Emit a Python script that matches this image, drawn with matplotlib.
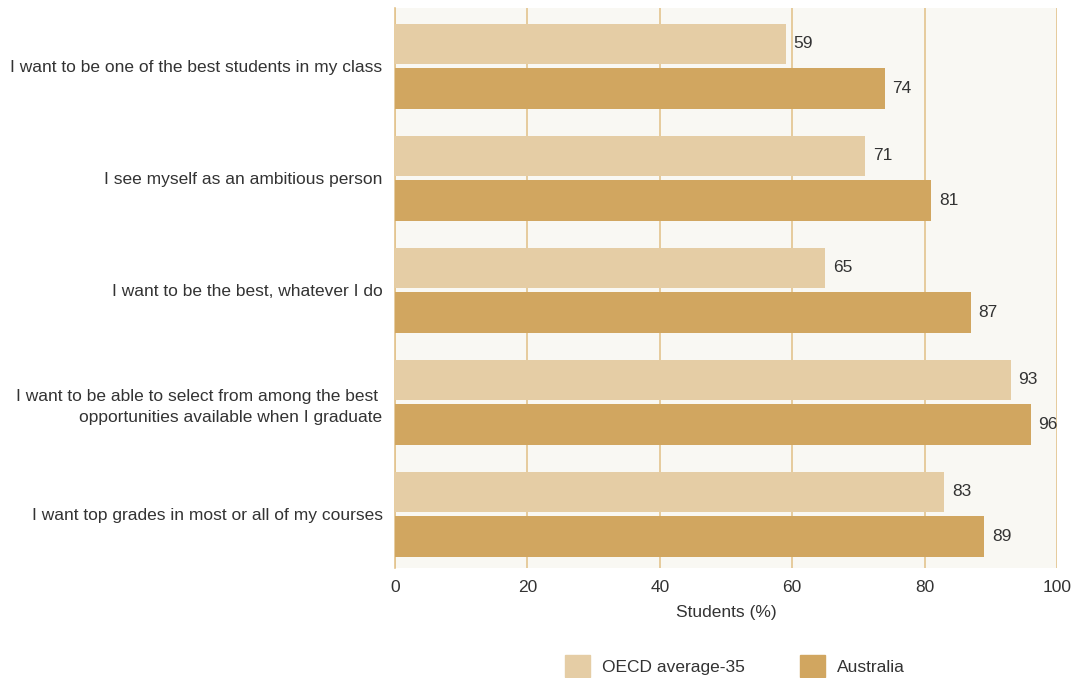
import matplotlib.pyplot as plt
from matplotlib.patches import Patch
import numpy as np

plt.rcParams['font.family'] = ['Liberation Sans', 'DejaVu Sans']

# survey statements, top to bottom
statements = [
    "I want to be one of the best students in my class",
    "I see myself as an ambitious person",
    "I want to be the best, whatever I do",
    "I want to be able to select from among the best \nopportunities available when I graduate",
    "I want top grades in most or all of my courses",
]
oecd = [59, 71, 65, 93, 83]
australia = [74, 81, 87, 96, 89]
xticks = [0, 20, 40, 60, 80, 100]

LIGHT = '#e5cda5'
DARK = '#d1a660'
GRID = '#e3c48e'
BG = '#f9f8f3'
TEXT = '#333333'
FS = 12.5

fig = plt.figure(figsize=(10.73, 6.78), dpi=100)
ax = fig.add_axes([395 / 1073, 110 / 678, 662 / 1073, 560 / 678])
ax.set_facecolor(BG)

y = np.arange(len(statements))
h = 0.36
off = 0.2
b1 = ax.barh(y - off, oecd, height=h, color=LIGHT, zorder=3)
b2 = ax.barh(y + off, australia, height=h, color=DARK, zorder=3)

for bars, vals in ((b1, oecd), (b2, australia)):
    for bar, v in zip(bars, vals):
        ax.annotate(str(v), (v, bar.get_y() + bar.get_height() / 2),
                    xytext=(5.5, 0), textcoords='offset points',
                    va='center', ha='left', fontsize=FS, color=TEXT)

ax.set_xlim(0, 100)
ax.set_ylim(len(statements) - 0.52, -0.52)
ax.set_xticks(xticks)
ax.set_yticks(y)
ax.set_yticklabels(statements, fontsize=FS, color=TEXT, linespacing=1.5)
ax.tick_params(axis='x', labelsize=FS, colors=TEXT, length=0, pad=9)
ax.tick_params(axis='y', length=0, pad=9)
ax.xaxis.grid(True, color=GRID, linewidth=1.2, zorder=0)
for s in ('top', 'bottom', 'right'):
    ax.spines[s].set_visible(False)
ax.spines['left'].set_color(GRID)
ax.spines['left'].set_linewidth(1.2)
ax.set_xlabel('Students (%)', fontsize=FS, color=TEXT, labelpad=7)

handles = [Patch(color=LIGHT, label='OECD average-35'),
           Patch(color=DARK, label='Australia')]
fig.legend(handles=handles, loc='center', bbox_to_anchor=(735 / 1073, 1 - 666 / 678),
           ncol=2, frameon=False, fontsize=FS, handlelength=1.4, handleheight=1.6,
           columnspacing=3.2, handletextpad=0.7, labelcolor=TEXT)

fig.savefig('out.png', dpi=100)
